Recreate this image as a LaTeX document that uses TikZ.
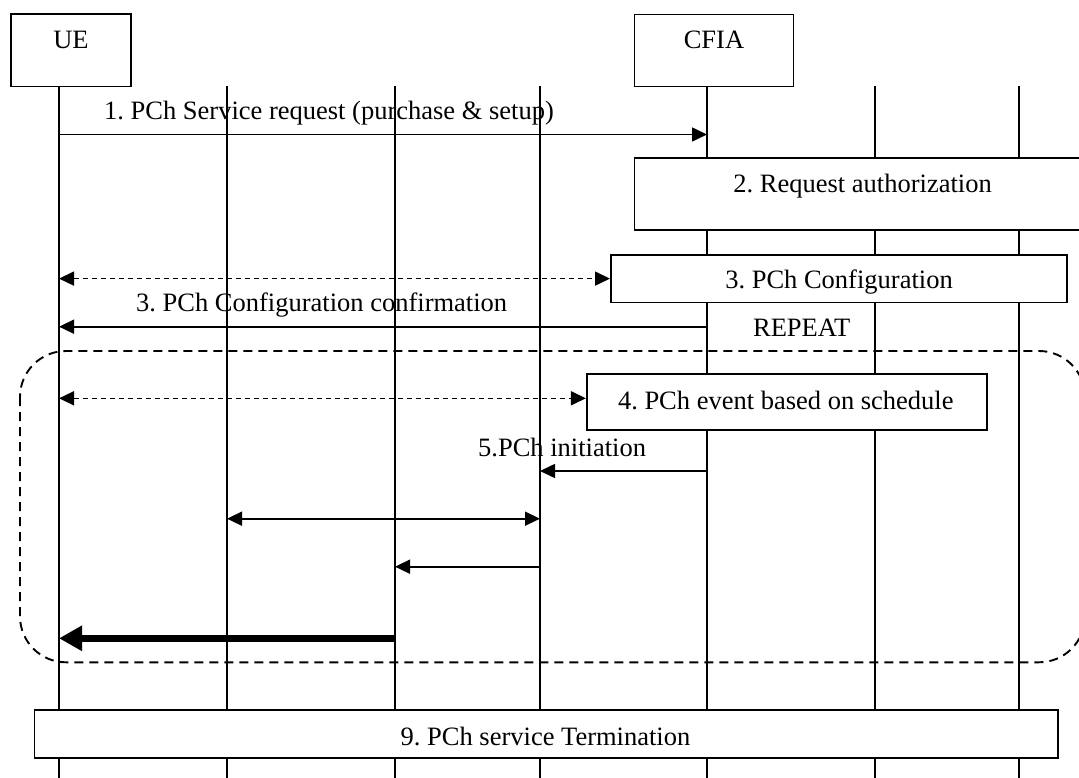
\documentclass[tikz,border=0pt]{standalone}
\usepackage{fontspec}
\setmainfont{Liberation Serif}
\usetikzlibrary{arrows.meta}
\frenchspacing
\begin{document}
\begin{tikzpicture}[x=1pt,y=-1pt,
  life/.style={line width=1.6pt},
  lbox/.style={draw, fill=white, line width=1.6pt, inner sep=0pt},
  lab/.style={anchor=base, inner sep=0pt, font=\fontsize{26.5}{30}\selectfont},
  labw/.style={lab, anchor=base west},
  msg/.style={line width=1.6pt, -{Triangle[length=15pt,width=14pt]}},
  bimsg/.style={line width=1.6pt, {Triangle[length=15pt,width=14pt]}-{Triangle[length=15pt,width=14pt]}},
  dmsg/.style={bimsg, dash pattern=on 5pt off 4pt},
  thickmsg/.style={line width=7pt, -{Triangle[length=23pt,width=24pt]}},
  loopbox/.style={line width=1.9pt, dash pattern=on 9pt off 6pt, rounded corners=46pt}
]
\useasboundingbox (0,0) rectangle (1079,778);

% lifelines
\foreach \i/\x in {1/59,2/227,3/395,4/540,5/707,6/875,7/1019}{
  \coordinate (t\i) at (\x,86);
  \coordinate (e\i) at (\x,778);
  \draw[life] (t\i) -- (e\i);
}

% header boxes
\node[lbox, minimum width=120.3pt, minimum height=72.5pt] (ue) at (71,50.25) {};
\node[lab] (uet) at (71,49) {UE};
\node[lbox, minimum width=159.2pt, minimum height=72pt] (cfia) at (714,50.4) {};
\node[lab] (cfiat) at (714,49) {CFIA};

% message 1
\coordinate (m1a) at (59,134.5);
\coordinate (m1b) at (707,134.5);
\draw[msg] (m1a) -- (m1b);
\node[labw] (m1t) at (104,120) {1. PCh Service request (purchase \& setup)};

% box 2
\node[lbox, minimum width=455.5pt, minimum height=71.7pt] (b2) at (862.25,194.15) {};
\node[lab] (b2t) at (862.6,192.7) {2. Request authorization};

% box 3
\node[lbox, minimum width=456.2pt, minimum height=47.8pt] (b3) at (838.9,278.6) {};
\node[lab] (b3t) at (839,288.3) {3. PCh Configuration};
\coordinate (m3a) at (59,278.6);
\draw[dmsg] (m3a) -- (b3.west);

% confirmation
\coordinate (m3ca) at (707,326.7);
\coordinate (m3cb) at (59,326.7);
\draw[msg] (m3ca) -- (m3cb);
\node[labw] (m3ct) at (136,311.7) {3. PCh Configuration confirmation};
\node[lab] (rep) at (801.7,336.7) {REPEAT};

% box 4
\node[lbox, minimum width=400.3pt, minimum height=56pt] (b4) at (786.85,402) {};
\node[lab] (b4t) at (785.8,409) {4. PCh event based on schedule};
\coordinate (m4a) at (59,398.3);
\draw[dmsg] (m4a) -- (b4.west |- m4a);

% message 5
\coordinate (m5a) at (707,471);
\coordinate (m5b) at (540,471);
\draw[msg] (m5a) -- (m5b);
\node[labw] (m5t) at (478,456.7) {5.PCh initiation};

% message 6
\coordinate (m6a) at (227,518.7);
\coordinate (m6b) at (540,518.7);
\draw[bimsg] (m6a) -- (m6b);

% message 7
\coordinate (m7a) at (540,566.7);
\coordinate (m7b) at (395,566.7);
\draw[msg] (m7a) -- (m7b);

% message 8
\coordinate (m8a) at (395,638.3);
\coordinate (m8b) at (59,638.3);
\draw[thickmsg] (m8a) -- (m8b);

% repeat loop
\coordinate (lp1) at (20,351);
\coordinate (lp2) at (1085,662.3);
\draw[loopbox] (lp1) rectangle (lp2);

% box 9
\node[lbox, minimum width=1023.4pt, minimum height=48pt] (b9) at (546.1,734) {};
\node[lab] (b9t) at (545.5,745) {9. PCh service Termination};
\end{tikzpicture}
\end{document}
